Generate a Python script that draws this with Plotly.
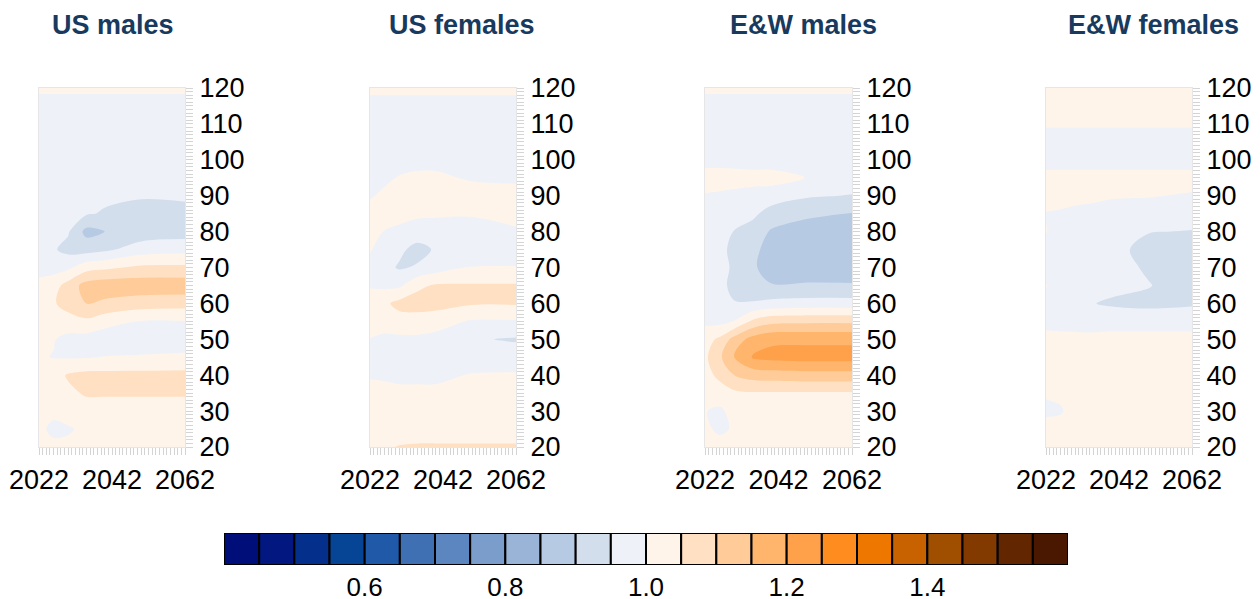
import plotly.graph_objects as go

# Projection years (columns) and ages (rows, top to bottom) of each grid
YEARS = [2022, 2026, 2030, 2035, 2040, 2050, 2062]
AGES = [120, 115, 110, 105, 100, 95, 90, 85, 80, 75, 70, 65, 60, 55, 50, 45, 40, 35, 30, 25, 20]

PANEL_TITLES = ["US males", "US females", "E&W males", "E&W females"]

US_MALES = [
    [1.01, 1.01, 1.01, 1.01, 1.01, 1.01, 1.01],
    [0.98, 0.98, 0.98, 0.98, 0.98, 0.98, 0.98],
    [0.98, 0.978, 0.978, 0.98, 0.98, 0.98, 0.98],
    [0.978, 0.976, 0.976, 0.975, 0.978, 0.98, 0.98],
    [0.976, 0.975, 0.975, 0.975, 0.975, 0.975, 0.975],
    [0.975, 0.975, 0.975, 0.97, 0.97, 0.97, 0.97],
    [0.973, 0.972, 0.97, 0.965, 0.96, 0.955, 0.96],
    [0.972, 0.97, 0.968, 0.955, 0.945, 0.93, 0.93],
    [0.972, 0.962, 0.955, 0.885, 0.9, 0.92, 0.925],
    [0.97, 0.955, 0.935, 0.93, 0.94, 0.975, 0.985],
    [0.975, 0.98, 0.99, 1.03, 1.04, 1.06, 1.06],
    [1.02, 1.03, 1.07, 1.12, 1.13, 1.13, 1.13],
    [1.03, 1.045, 1.07, 1.1, 1.09, 1.075, 1.07],
    [1.03, 1.03, 1.03, 1.04, 1.02, 0.998, 0.999],
    [1.02, 1.003, 0.985, 0.98, 0.97, 0.97, 0.97],
    [1.005, 0.998, 0.996, 0.997, 1.002, 1.005, 1.01],
    [1.03, 1.03, 1.055, 1.065, 1.065, 1.065, 1.065],
    [1.03, 1.03, 1.04, 1.055, 1.055, 1.055, 1.055],
    [1.02, 1.01, 1.02, 1.03, 1.03, 1.03, 1.03],
    [1.01, 0.99, 0.995, 1.01, 1.02, 1.02, 1.02],
    [1.02, 1.01, 1.01, 1.02, 1.02, 1.02, 1.02],
]

US_FEMALES = [
    [1.01, 1.01, 1.01, 1.01, 1.01, 1.01, 1.01],
    [0.985, 0.985, 0.985, 0.985, 0.985, 0.985, 0.985],
    [0.98, 0.98, 0.98, 0.98, 0.98, 0.98, 0.98],
    [0.98, 0.98, 0.98, 0.98, 0.98, 0.98, 0.98],
    [0.98, 0.98, 0.98, 0.99, 0.99, 0.985, 0.985],
    [0.985, 0.99, 1.003, 1.006, 1.006, 0.996, 0.995],
    [0.995, 1.01, 1.02, 1.02, 1.02, 1.015, 1.01],
    [1.02, 1.02, 1.015, 1.01, 1.01, 1.006, 1.01],
    [1.02, 0.998, 0.99, 0.975, 0.965, 0.975, 0.996],
    [1.005, 0.97, 0.96, 0.935, 0.955, 0.975, 0.975],
    [0.98, 0.965, 0.945, 0.955, 0.975, 1.002, 1.002],
    [0.996, 0.99, 0.99, 1.04, 1.055, 1.055, 1.055],
    [1.02, 1.04, 1.065, 1.07, 1.07, 1.055, 1.055],
    [1.02, 1.02, 1.03, 1.03, 1.02, 0.995, 0.995],
    [0.999, 0.99, 0.99, 0.99, 0.985, 0.955, 0.945],
    [0.98, 0.98, 0.98, 0.98, 0.98, 0.975, 0.975],
    [0.997, 0.995, 0.99, 0.99, 0.99, 1.003, 1.005],
    [1.01, 1.01, 1.01, 1.01, 1.01, 1.01, 1.01],
    [1.02, 1.02, 1.02, 1.02, 1.02, 1.02, 1.02],
    [1.03, 1.03, 1.03, 1.03, 1.03, 1.03, 1.03],
    [1.04, 1.045, 1.052, 1.055, 1.055, 1.055, 1.055],
]

EW_MALES = [
    [1.01, 1.01, 1.01, 1.01, 1.01, 1.01, 1.01],
    [0.98, 0.98, 0.98, 0.98, 0.98, 0.98, 0.98],
    [0.975, 0.975, 0.975, 0.975, 0.975, 0.975, 0.975],
    [0.975, 0.975, 0.975, 0.975, 0.975, 0.975, 0.975],
    [0.975, 0.975, 0.975, 0.975, 0.975, 0.985, 0.98],
    [1.03, 1.03, 1.025, 1.02, 1.02, 0.998, 0.975],
    [0.995, 0.99, 0.985, 0.98, 0.975, 0.955, 0.948],
    [0.98, 0.975, 0.97, 0.96, 0.93, 0.91, 0.898],
    [0.985, 0.97, 0.948, 0.93, 0.895, 0.875, 0.87],
    [0.975, 0.96, 0.94, 0.91, 0.885, 0.87, 0.87],
    [0.97, 0.96, 0.945, 0.905, 0.885, 0.875, 0.87],
    [0.97, 0.96, 0.94, 0.915, 0.902, 0.905, 0.905],
    [0.975, 0.965, 0.952, 0.955, 0.965, 0.97, 0.97],
    [0.99, 0.985, 1.002, 1.06, 1.085, 1.09, 1.09],
    [1.03, 1.06, 1.12, 1.17, 1.19, 1.19, 1.19],
    [1.04, 1.09, 1.155, 1.205, 1.215, 1.22, 1.22],
    [1.035, 1.06, 1.1, 1.12, 1.125, 1.13, 1.13],
    [1.02, 1.03, 1.04, 1.045, 1.045, 1.045, 1.045],
    [1.002, 0.99, 1.02, 1.03, 1.03, 1.03, 1.03],
    [1.005, 0.995, 1.003, 1.02, 1.02, 1.02, 1.02],
    [1.01, 1.01, 1.01, 1.02, 1.02, 1.02, 1.02],
]

EW_FEMALES = [
    [1.02, 1.02, 1.02, 1.02, 1.02, 1.02, 1.02],
    [1.02, 1.02, 1.02, 1.02, 1.02, 1.02, 1.02],
    [1.005, 1.005, 1.005, 1.005, 1.005, 1.005, 1.005],
    [0.98, 0.98, 0.98, 0.98, 0.98, 0.98, 0.98],
    [0.975, 0.975, 0.975, 0.975, 0.975, 0.975, 0.975],
    [1.02, 1.02, 1.02, 1.02, 1.02, 1.02, 1.02],
    [1.015, 1.015, 1.012, 1.01, 1.005, 1.003, 0.995],
    [0.998, 0.995, 0.99, 0.985, 0.98, 0.975, 0.97],
    [1.002, 0.975, 0.975, 0.975, 0.97, 0.952, 0.948],
    [0.98, 0.975, 0.972, 0.97, 0.965, 0.935, 0.93],
    [0.98, 0.975, 0.972, 0.97, 0.965, 0.945, 0.935],
    [1.002, 0.975, 0.97, 0.965, 0.96, 0.952, 0.93],
    [0.99, 0.975, 0.965, 0.951, 0.945, 0.94, 0.945],
    [0.985, 0.98, 0.978, 0.975, 0.975, 0.975, 0.975],
    [1.015, 1.015, 1.015, 1.015, 1.02, 1.02, 1.02],
    [1.02, 1.02, 1.02, 1.02, 1.02, 1.02, 1.02],
    [1.02, 1.02, 1.02, 1.02, 1.02, 1.02, 1.02],
    [1.005, 1.01, 1.02, 1.02, 1.02, 1.02, 1.02],
    [0.99, 0.995, 1.02, 1.02, 1.02, 1.02, 1.02],
    [1.02, 1.02, 1.02, 1.02, 1.02, 1.02, 1.02],
    [1.02, 1.02, 1.02, 1.02, 1.02, 1.02, 1.02],
]

PANELS = [US_MALES, US_FEMALES, EW_MALES, EW_FEMALES]

# Contour levels (0.05 steps) and the colour of each band
LEVELS = [0.40, 0.45, 0.50, 0.55, 0.60, 0.65, 0.70, 0.75, 0.80, 0.85, 0.90, 0.95,
          1.00, 1.05, 1.10, 1.15, 1.20, 1.25, 1.30, 1.35, 1.40, 1.45, 1.50, 1.55, 1.60]
BAND_COLORS = [
    "#000e7a", "#021880", "#04308c", "#064596", "#2059a8", "#3f70b4",
    "#5b86bf", "#7a9dcb", "#9ab4d8", "#b7cae3", "#d3deed", "#eef2f8",
    "#fff4ea", "#ffe0c2", "#ffcb99", "#ffb66c", "#ffa04a", "#ff8c1e",
    "#ee7700", "#c86200", "#a04f00", "#823a00", "#622600", "#4a1800",
]
BAR_TICKS = [0.6, 0.8, 1.0, 1.2, 1.4]

# the page body adds an 8px margin, so the figure starts 8px in from the window corner
OFF = 8
W, H = 1260 - 2 * OFF, 599 - OFF
FONT = "Liberation Sans, Arial, sans-serif"


def px_x(x):
    return (x - OFF) / W


def px_y(y):
    return (H - (y - OFF)) / H


# stepwise colourscale so every band gets one flat colour
n = len(BAND_COLORS)
colorscale = []
for i, c in enumerate(BAND_COLORS):
    colorscale.append([i / n, c])
    colorscale.append([(i + 1) / n, c])

# panel plot areas in window pixels (left, right)
panel_px = [(39, 185), (370, 516), (705, 852), (1046, 1192)]
title_px = [113, 462, 803, 1153]
y_dom = [px_y(447), px_y(88)]

fig = go.Figure()
layout = {}

for k, z in enumerate(PANELS):
    idx = k + 1
    fig.add_trace(go.Contour(
        x=YEARS, y=AGES, z=z,
        zmin=LEVELS[0], zmax=LEVELS[-1],
        colorscale=colorscale,
        autocontour=False,
        contours=dict(start=LEVELS[0], end=LEVELS[-1], size=LEVELS[1] - LEVELS[0],
                      coloring="fill", showlines=False),
        line=dict(width=0, smoothing=1.0),
        showscale=False,
        xaxis=f"x{idx}", yaxis=f"y{idx}",
    ))
    tick_style = dict(ticks="outside", ticklen=7, tickwidth=1, tickcolor="#d4d4d4")
    layout[f"xaxis{idx}"] = dict(
        domain=[px_x(panel_px[k][0]), px_x(panel_px[k][1])],
        anchor=f"y{idx}", range=[2022, 2062],
        tickvals=[2022, 2042, 2062],
        minor=dict(tickmode="linear", tick0=2022, dtick=1, **tick_style),
        showline=True, linecolor="#e6e6e6", mirror=True,
        showgrid=False, zeroline=False, automargin=False,
        ticklabelstandoff=2,
        tickfont=dict(family=FONT, size=27, color="black"),
        **tick_style,
    )
    layout[f"yaxis{idx}"] = dict(
        domain=y_dom, anchor=f"x{idx}", range=[20, 120], side="right",
        tickvals=[20, 30, 40, 50, 60, 70, 80, 90, 100, 110, 120],
        minor=dict(tickmode="linear", tick0=20, dtick=1, **tick_style),
        showline=True, linecolor="#e6e6e6", mirror=True,
        showgrid=False, zeroline=False, automargin=False,
        ticklabelstandoff=1,
        tickfont=dict(family=FONT, size=27, color="black"),
        **tick_style,
    )

# colour key drawn as a row of boxes
centers = [(a + b) / 2 for a, b in zip(LEVELS[:-1], LEVELS[1:])]
fig.add_trace(go.Bar(
    x=centers, y=[1] * len(centers), width=LEVELS[1] - LEVELS[0],
    marker=dict(color=BAND_COLORS, line=dict(color="black", width=2)),
    xaxis="x5", yaxis="y5", showlegend=False, hoverinfo="skip",
))
layout["xaxis5"] = dict(
    domain=[px_x(224), px_x(1068)], anchor="y5", range=[LEVELS[0], LEVELS[-1]],
    tickvals=BAR_TICKS, ticktext=[f"{v:.1f}" for v in BAR_TICKS],
    showgrid=False, zeroline=False, showline=False, ticks="",
    automargin=False, ticklabelstandoff=4,
    tickfont=dict(family=FONT, size=26, color="black"),
)
layout["yaxis5"] = dict(domain=[px_y(565), px_y(533)], anchor="x5",
                        range=[0, 1], visible=False)

annotations = []
for t, px in zip(PANEL_TITLES, title_px):
    annotations.append(dict(
        text=f"<b>{t}</b>", x=px_x(px), y=px_y(25), xref="paper", yref="paper",
        xanchor="center", yanchor="middle", showarrow=False,
        font=dict(family=FONT, size=27, color="#173a5e"),
    ))

fig.update_layout(
    width=W, height=H,
    margin=dict(l=0, r=0, t=0, b=0, autoexpand=False),
    paper_bgcolor="white", plot_bgcolor="white",
    showlegend=False,
    annotations=annotations,
    **layout,
)

fig.write_html("out.html")
